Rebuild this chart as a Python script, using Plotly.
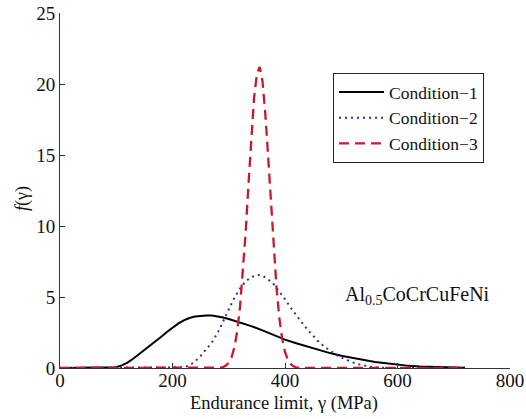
import plotly.graph_objects as go

# ---- data ----
c1_x = [0, 80, 90, 100, 110, 120, 130, 140, 150, 160, 170, 180, 190, 200, 210, 220, 230, 240, 250,
        260, 270, 280, 290, 300, 320, 340, 360, 380, 400, 420, 440, 460, 480, 500, 520, 540, 560,
        580, 600, 620, 640, 660, 680, 700, 720]
c1_y = [0, 0, 0.01, 0.05, 0.18, 0.38, 0.65, 0.95, 1.25, 1.56, 1.88, 2.2, 2.53, 2.84, 3.12, 3.35, 3.52,
        3.62, 3.68, 3.7, 3.69, 3.63, 3.55, 3.45, 3.22, 2.95, 2.65, 2.32, 2.0, 1.74, 1.5, 1.27, 1.05,
        0.86, 0.7, 0.55, 0.43, 0.33, 0.23, 0.15, 0.11, 0.08, 0.06, 0.04, 0.02]

c2_x = [0, 200, 210, 220, 230, 240, 250, 260, 270, 280, 290, 300, 310, 320, 330, 340, 350, 360, 370,
        380, 390, 400, 410, 420, 430, 440, 450, 460, 470, 480, 490, 500, 510, 520, 530, 540, 550,
        560, 570, 580, 720]
c2_y = [0, 0, 0, 0.05, 0.18, 0.45, 0.85, 1.3, 1.8, 2.45, 3.3, 4.2, 4.95, 5.6, 6.1, 6.4, 6.55, 6.5,
        6.25, 5.9, 5.4, 4.85, 4.25, 3.7, 3.2, 2.7, 2.25, 1.85, 1.5, 1.2, 0.95, 0.74, 0.55, 0.4, 0.27,
        0.17, 0.1, 0.05, 0.02, 0, 0]

c3_x = [0, 280, 285, 290, 295, 300, 305, 310, 315, 320, 325, 330, 335, 340, 345, 350, 355, 360, 365,
        370, 375, 380, 385, 390, 395, 400, 405, 410, 415, 420, 425, 430, 720]
c3_y = [0, 0.01, 0.03, 0.07, 0.17, 0.37, 0.76, 1.45, 2.58, 4.3, 6.6, 9.5, 12.9, 16.2, 19.0, 20.7, 21.2,
        20.2, 17.9, 14.9, 11.5, 8.3, 5.6, 3.5, 2.06, 1.13, 0.58, 0.28, 0.12, 0.05, 0.02, 0, 0]

names = ["Condition\u22121", "Condition\u22122", "Condition\u22123"]
x_ticks = [0, 200, 400, 600, 800]
y_ticks = [0, 5, 10, 15, 20, 25]

FONT = "Liberation Serif, Times New Roman, serif"
TXT = "#111111"
W, H = 526, 419

fig = go.Figure()
fig.add_trace(go.Scatter(x=c1_x, y=c1_y, mode="lines", name=names[0],
                         line=dict(color="#000000", width=2)))
fig.add_trace(go.Scatter(x=c2_x, y=c2_y, mode="lines", name=names[1],
                         line=dict(color="#2e2e9e", width=2, dash="2px,4px")))
fig.add_trace(go.Scatter(x=c3_x, y=c3_y, mode="lines", name=names[2],
                         line=dict(color="#c8182c", width=2.3, dash="10px,6px")))

# plot-area frame in page pixels
px_l, px_r, px_t, px_b = 60, 510, 13, 368
def to_paper(px, py):
    return (px - px_l) / (px_r - px_l), (px_b - py) / (px_b - px_t)

xt_x, xt_y = to_paper(284, 403)
yt_x, yt_y = to_paper(22, 199)
lg_x, lg_y = to_paper(333, 73)

fig.update_layout(
    width=W, height=H,
    margin=dict(l=px_l, r=W - px_r, t=px_t, b=H - px_b, autoexpand=False),
    paper_bgcolor="white", plot_bgcolor="white",
    font=dict(family=FONT, size=18, color=TXT),
    showlegend=True,
    legend=dict(x=lg_x, y=lg_y, xanchor="left", yanchor="top",
                bgcolor="white", bordercolor="#222222", borderwidth=1,
                font=dict(family=FONT, size=17.5, color=TXT),
                itemwidth=45, tracegroupgap=0),
    xaxis=dict(range=[0, 800], tickvals=x_ticks, ticks="inside", ticklen=5,
               showline=True, linecolor="#333333", linewidth=1, showgrid=False,
               zeroline=False, mirror=False, tickcolor="#333333", automargin=False,
               ticklabelstandoff=-5,
               tickfont=dict(family=FONT, size=19, color=TXT)),
    yaxis=dict(range=[0, 25], tickvals=y_ticks, ticks="inside", ticklen=5,
               showline=True, linecolor="#333333", linewidth=1, showgrid=False,
               zeroline=False, mirror=False, tickcolor="#333333", automargin=False,
               tickfont=dict(family=FONT, size=19, color=TXT)),
    annotations=[
        dict(x=636, y=5.1, xref="x", yref="y", text="Al<sub>0.5</sub>CoCrCuFeNi",
             showarrow=False, xanchor="center", yanchor="middle",
             font=dict(family=FONT, size=20, color=TXT)),
        dict(x=xt_x, y=xt_y, xref="paper", yref="paper", text="Endurance limit, \u03b3 (MPa)",
             showarrow=False, xanchor="center", yanchor="middle",
             font=dict(family=FONT, size=18.5, color=TXT)),
        dict(x=yt_x, y=yt_y, xref="paper", yref="paper", text="<i>f</i>(\u03b3)", textangle=-90,
             showarrow=False, xanchor="center", yanchor="middle",
             font=dict(family=FONT, size=18, color=TXT)),
    ],
)

fig.write_html(
    "out.html",
    config={"displayModeBar": False},
    post_script="document.body.style.margin='0';document.body.style.overflow='hidden';",
)
